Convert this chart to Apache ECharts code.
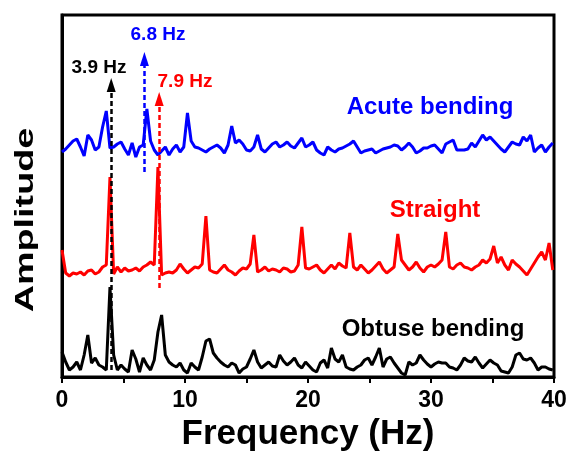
<!DOCTYPE html>
<html>
<head>
<meta charset="utf-8">
<script src="https://cdn.jsdelivr.net/npm/echarts@6/dist/echarts.min.js"></script>
<style>
  html, body { margin: 0; padding: 0; background: #fff; }
  #chart { width: 569px; height: 453px; }
</style>
</head>
<body>
<div id="chart"></div>
<script>
// frequency samples: 0, 0.3, 0.6 ... 39.9 Hz
const freqStep = 0.3;

// amplitudes (arbitrary units, curves stacked with their own offsets)
const acute = [
  225, 228, 232, 236, 238, 230, 221, 242, 237, 227,
  230, 250, 266, 229, 230, 233, 235, 228, 222, 234,
  220, 230, 232, 268, 236, 227, 222, 226, 230, 222,
  228, 232, 225, 230, 264, 236, 230, 229, 227, 225,
  228, 230, 232, 229, 224, 232, 251, 234, 237, 233,
  227, 226, 230, 242, 228, 225, 229, 233, 235, 230,
  232, 235, 231, 229, 234, 239, 230, 232, 235, 227,
  224, 222, 230, 227, 225, 228, 229, 231, 233, 236,
  230, 224, 226, 227, 228, 224, 226, 228, 229, 230,
  232, 231, 227, 230, 234, 230, 224, 226, 229, 229,
  231, 232, 228, 224, 233, 235, 237, 227, 227, 227,
  228, 234, 230, 236, 242, 237, 240, 236, 232, 228,
  225, 230, 235, 233, 232, 240, 236, 242, 225, 229,
  232, 225, 230, 234
];
const straight = [
  127, 104, 101, 104, 103, 105, 102, 106, 107, 103,
  105, 110, 112, 200, 103, 110, 105, 109, 106, 107,
  109, 106, 110, 112, 115, 112, 210, 102, 104, 105,
  104, 107, 113, 108, 104, 107, 110, 109, 113, 161,
  107, 105, 104, 108, 112, 107, 105, 102, 106, 109,
  108, 113, 142, 105, 107, 110, 106, 108, 107, 105,
  109, 108, 105, 106, 112, 150, 109, 108, 110, 112,
  107, 104, 108, 112, 108, 114, 111, 109, 144, 110,
  107, 112, 108, 104, 107, 111, 115, 108, 104, 107,
  110, 143, 117, 112, 107, 110, 115, 109, 105, 110,
  112, 110, 113, 117, 145, 110, 108, 112, 114, 110,
  109, 107, 110, 112, 117, 114, 118, 131, 114, 120,
  112, 107, 117, 113, 110, 106, 102, 108, 114, 120,
  125, 117, 134, 107
];
const obtuse = [
  25, 15, 7, 10, 15, 7, 22, 42, 14, 19,
  12, 10, 7, 90, 22, 7, 12, 8, 5, 27,
  18, 5, 19, 12, 7, 17, 45, 62, 22, 15,
  12, 10, 14, 7, 4, 14, 10, 7, 20, 36,
  38, 24, 19, 15, 12, 10, 14, 12, 4, 8,
  10, 18, 27, 15, 9, 12, 15, 11, 10, 22,
  16, 12, 15, 19, 12, 9, 15, 11, 7, 5,
  14, 17, 9, 29, 18, 15, 22, 10, 8, 7,
  10, 12, 17, 19, 12, 20, 29, 10, 18, 20,
  14, 9, 4, 2, 15, 12, 14, 22, 17, 13,
  10, 13, 15, 14, 14, 10, 9, 7, 12, 19,
  16, 15, 20, 14, 9, 13, 17, 14, 12, 6,
  5, 4, 10, 22, 24, 18, 17, 19, 14, 7,
  10, 10, 8, 7
];

// marked peaks: [freq, arrow start, arrow end]
const blackArrow = [4.0, 7, 292];
const blueArrow = [6.7, 205, 318];
const redArrow = [7.9, 89, 278];

const xTicks = [0, 10, 20, 30, 40];

const chart = echarts.init(document.getElementById('chart'));

function pairs(arr) {
  return arr.map((v, i) => [+(i * freqStep).toFixed(1), v]);
}

function arrow(a, color) {
  return {
    silent: true,
    symbol: ['none', 'triangle'],
    symbolSize: [9, 14],
    label: { show: false },
    lineStyle: { color: color, type: [5, 3], width: 2.5 },
    data: [[{ coord: [a[0], a[1]] }, { coord: [a[0], a[2]] }]]
  };
}

const boldFont = 'Arial, "Liberation Sans", sans-serif';

chart.setOption({
  animation: false,
  grid: {
    left: 62,
    right: 15,
    top: 15,
    bottom: 76,
    outerBoundsMode: 'none',
    containLabel: false,
    show: true,
    borderColor: '#000',
    borderWidth: 3
  },
  xAxis: {
    type: 'value',
    min: 0,
    max: 40,
    interval: 5,
    name: 'Frequency (Hz)',
    nameLocation: 'middle',
    nameGap: 35,
    nameTextStyle: { fontSize: 35, fontWeight: 'bold', color: '#000', fontFamily: boldFont },
    axisLine: { lineStyle: { color: '#000', width: 3 } },
    axisTick: { show: true, length: 6, lineStyle: { width: 2, color: '#000' } },
    axisLabel: {
      fontSize: 23,
      fontWeight: 'bold',
      color: '#000',
      fontFamily: boldFont,
      margin: 12,
      formatter: v => (xTicks.indexOf(v) >= 0 ? String(v) : '')
    },
    splitLine: { show: false }
  },
  yAxis: {
    type: 'value',
    min: 0,
    max: 362,
    axisLine: { show: true, lineStyle: { color: '#000', width: 3 } },
    axisTick: { show: false },
    axisLabel: { show: false },
    splitLine: { show: false }
  },
  series: [
    {
      name: 'Obtuse bending',
      type: 'line',
      data: pairs(obtuse),
      showSymbol: false,
      lineStyle: { color: '#000', width: 3 },
      itemStyle: { color: '#000' },
      markLine: arrow(blackArrow, '#000')
    },
    {
      name: 'Straight',
      type: 'line',
      data: pairs(straight),
      showSymbol: false,
      lineStyle: { color: '#ff0000', width: 3 },
      itemStyle: { color: '#ff0000' },
      markLine: arrow(redArrow, '#ff0000')
    },
    {
      name: 'Acute bending',
      type: 'line',
      data: pairs(acute),
      showSymbol: false,
      lineStyle: { color: '#0000ff', width: 3 },
      itemStyle: { color: '#0000ff' },
      markLine: arrow(blueArrow, '#0000ff')
    }
  ],
  graphic: [
    {
      type: 'text', x: 26, y: 220, rotation: Math.PI / 2, scaleX: 1.45,
      style: { text: 'Amplitude', fontSize: 26, fontWeight: 'bold', fill: '#000', fontFamily: boldFont, align: 'center', verticalAlign: 'middle' }
    },
    {
      type: 'text', x: 430, y: 107,
      style: { text: 'Acute bending', fontSize: 24, fontWeight: 'bold', fill: '#0000ff', fontFamily: boldFont, align: 'center', verticalAlign: 'middle' }
    },
    {
      type: 'text', x: 435, y: 210,
      style: { text: 'Straight', fontSize: 24, fontWeight: 'bold', fill: '#ff0000', fontFamily: boldFont, align: 'center', verticalAlign: 'middle' }
    },
    {
      type: 'text', x: 433, y: 329,
      style: { text: 'Obtuse bending', fontSize: 24, fontWeight: 'bold', fill: '#000', fontFamily: boldFont, align: 'center', verticalAlign: 'middle' }
    },
    {
      type: 'text', x: 99, y: 68,
      style: { text: '3.9 Hz', fontSize: 19, fontWeight: 'bold', fill: '#000', fontFamily: boldFont, align: 'center', verticalAlign: 'middle' }
    },
    {
      type: 'text', x: 158, y: 35,
      style: { text: '6.8 Hz', fontSize: 19, fontWeight: 'bold', fill: '#0000ff', fontFamily: boldFont, align: 'center', verticalAlign: 'middle' }
    },
    {
      type: 'text', x: 185, y: 82,
      style: { text: '7.9 Hz', fontSize: 19, fontWeight: 'bold', fill: '#ff0000', fontFamily: boldFont, align: 'center', verticalAlign: 'middle' }
    }
  ]
});
</script>
</body>
</html>
